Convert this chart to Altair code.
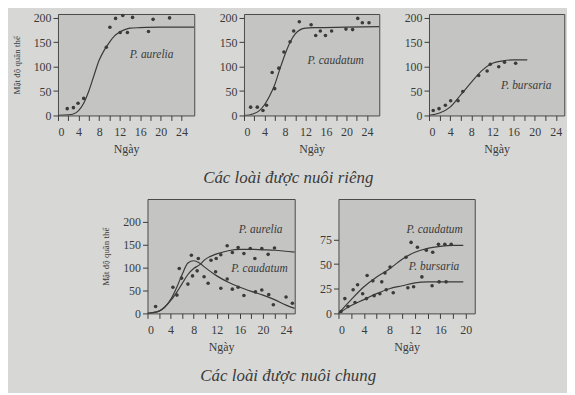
import altair as alt
import pandas as pd

FONT = "Liberation Serif, Times New Roman, serif"
INK = "#3a3a3a"
PLOT_BG = "#c4c4c2"
PAGE_BG = "#d7d8d6"

# ---------------- Panel A: P. aurelia (grown alone)
a_pt_x = [1.8, 3.0, 3.9, 5.0, 9.4, 10.1, 11.2, 12.1, 12.6, 13.5, 14.5, 17.6, 18.5, 21.7]
a_pt_y = [14, 16, 25, 35, 140, 181, 199, 170, 205, 170, 201, 172, 197, 200]
a_cv_x = [0, 2, 3, 4, 5, 6, 7, 8, 9, 10, 11, 12, 13, 14, 16, 20, 26.5]
a_cv_y = [0, 1, 3, 10, 25, 50, 82, 113, 134, 150, 163, 171, 176, 179, 180, 181, 181]

# ---------------- Panel B: P. caudatum (grown alone)
b_pt_x = [1.3, 2.6, 3.7, 4.4, 5.5, 6.0, 6.8, 7.8, 9.0, 9.7, 10.8, 13.1, 14.0, 14.9,
          15.9, 17.1, 19.9, 21.2, 22.2, 23.1, 24.4]
b_pt_y = [17, 17, 10, 21, 88, 55, 97, 130, 151, 173, 192, 186, 164, 173,
          164, 173, 177, 176, 199, 190, 190]
b_cv_x = [0, 1, 2, 3, 4, 5, 6, 7, 8, 9, 10, 11, 12, 14, 20, 26.4]
b_cv_y = [0, 1, 4, 10, 22, 40, 63, 95, 125, 150, 167, 176, 179, 180, 181, 182]

# ---------------- Panel C: P. bursaria (grown alone)
c_pt_x = [0.8, 1.9, 3.1, 4.1, 5.5, 6.4, 9.4, 11.0, 11.6, 13.2, 14.3, 16.4]
c_pt_y = [10, 14, 21, 30, 30, 49, 82, 91, 105, 100, 109, 107]
c_cv_x = [0, 2, 4, 6, 8, 10, 12, 14, 16, 18.6]
c_cv_y = [0, 5, 17, 42, 68, 92, 107, 112, 114, 114]

# ---------------- Panel D: P. aurelia + P. caudatum (grown together)
da_pt_x = [1.4, 5.1, 7.0, 7.8, 8.6, 11.0, 11.9, 12.7, 13.8, 14.7, 15.7, 16.7,
           17.8, 18.6, 19.8, 20.9, 22.0]
da_pt_y = [15, 40, 64, 82, 93, 116, 120, 128, 148, 133, 144, 131,
           142, 120, 142, 129, 143]
da_cv_x = [0, 2, 4, 5, 6, 7, 8, 9, 10, 12, 14, 16, 18, 20, 22, 25.5]
da_cv_y = [0, 5, 28, 45, 65, 85, 98, 106, 118, 130, 137, 140, 140, 139, 138, 134]

dc_pt_x = [4.4, 5.5, 5.9, 7.6, 8.8, 9.8, 10.5, 11.8, 12.7, 13.8, 14.7, 15.7,
           16.7, 18.7, 19.8, 21.0, 21.8, 24.0, 25.1]
dc_pt_y = [57, 98, 77, 127, 120, 80, 66, 91, 55, 75, 53, 57,
           39, 47, 51, 41, 19, 36, 22]
dc_cv_x = [0, 2, 4, 5, 6, 7, 8, 9, 10, 12, 14, 16, 18, 20, 22, 24, 25.5]
dc_cv_y = [0, 5, 30, 55, 85, 110, 115, 110, 100, 82, 68, 57, 48, 40, 30, 18, 11]

# ---------------- Panel E: P. caudatum + P. bursaria (grown together)
ec_pt_x = [1.0, 2.3, 3.0, 4.5, 5.4, 6.8, 7.3, 8.1, 10.6, 11.4, 12.4, 13.8,
           14.8, 15.7, 16.7, 17.7]
ec_pt_y = [15, 24, 29, 38.5, 33, 32, 41, 47, 57, 72, 67, 64,
           62, 70, 70, 70]
ec_cv_x = [0, 2, 4, 6, 8, 10, 12, 14, 16, 18, 19.6]
ec_cv_y = [0, 14, 27, 37, 45, 55, 62, 66, 68, 69, 69]

eb_pt_x = [0.4, 1.5, 2.6, 3.8, 4.4, 5.6, 6.5, 7.5, 8.6, 10.9, 11.8, 13.1,
           14.7, 15.8, 16.9]
eb_pt_y = [2, 7, 11, 20, 15, 18, 20, 24, 21, 26, 27, 37,
           28, 32, 32]
eb_cv_x = [0, 2, 4, 6, 8, 10, 12, 14, 16, 19.6]
eb_cv_y = [0, 8, 14, 20, 25, 28, 31, 32, 32, 32]

# ---------------- Labels and axes
Y_TITLE = "Mật độ quần thể"
X_TITLE = "Ngày"
CAPTION_TOP = "Các loài được nuôi riêng"
CAPTION_BOTTOM = "Các loài được nuôi chung"

x_ticks_24 = [0, 2, 4, 6, 8, 10, 12, 14, 16, 18, 20, 22, 24]
x_ticks_20 = [0, 2, 4, 6, 8, 10, 12, 14, 16, 18, 20]
y_ticks_200 = [0, 50, 100, 150, 200]
y_ticks_75 = [0, 25, 50, 75]


def panel(series, labels, xdom, ydom, xvals, yvals, w, h, ytitle=False):
    pts, cvs = [], []
    for name, (px, py, cx, cy) in series.items():
        pts += [{"s": name, "x": a, "y": b} for a, b in zip(px, py)]
        cvs += [{"s": name, "x": a, "y": b} for a, b in zip(cx, cy)]
    lab = pd.DataFrame(labels, columns=["t", "x", "y"])

    if ytitle:
        yaxis = alt.Axis(values=yvals, title=Y_TITLE)
    else:
        yaxis = alt.Axis(values=yvals, title=None)
    x = alt.X("x:Q", scale=alt.Scale(domain=xdom, nice=False, zero=False),
              axis=alt.Axis(values=xvals, title=X_TITLE,
                            labelExpr="datum.value % 4 == 0 ? datum.label : ''"))
    y = alt.Y("y:Q", scale=alt.Scale(domain=ydom, nice=False, zero=False), axis=yaxis)

    line = alt.Chart(pd.DataFrame(cvs)).mark_line(
        interpolate="monotone", color=INK, strokeWidth=1.2, clip=True
    ).encode(x=x, y=y, detail="s:N")
    dots = alt.Chart(pd.DataFrame(pts)).mark_circle(
        size=13, color=INK, opacity=1
    ).encode(x=x, y=y, detail="s:N")
    text = alt.Chart(lab).mark_text(
        font=FONT, fontStyle="italic", fontSize=11.5, color=INK
    ).encode(x=x, y=y, text="t:N")
    return alt.layer(line, dots, text).properties(width=w, height=h)


pA = panel({"a": (a_pt_x, a_pt_y, a_cv_x, a_cv_y)},
           [["P. aurelia", 18.2, 123]], [0, 26.5], [0, 208],
           x_ticks_24, y_ticks_200, 137, 102, ytitle=True)
pB = panel({"c": (b_pt_x, b_pt_y, b_cv_x, b_cv_y)},
           [["P. caudatum", 17.9, 112]], [0, 26.4], [0, 208],
           x_ticks_24, y_ticks_200, 136, 102)
pC = panel({"b": (c_pt_x, c_pt_y, c_cv_x, c_cv_y)},
           [["P. bursaria", 18.4, 60]], [0, 25.6], [0, 208],
           x_ticks_24, y_ticks_200, 136, 102)
pD = panel({"a": (da_pt_x, da_pt_y, da_cv_x, da_cv_y),
            "c": (dc_pt_x, dc_pt_y, dc_cv_x, dc_cv_y)},
           [["P. aurelia", 19.6, 182], ["P. caudatum", 19.4, 97]],
           [0, 25.5], [0, 250], x_ticks_24, y_ticks_200, 148, 115, ytitle=True)
pE = panel({"c": (ec_pt_x, ec_pt_y, ec_cv_x, ec_cv_y),
            "b": (eb_pt_x, eb_pt_y, eb_cv_x, eb_cv_y)},
           [["P. caudatum", 15.1, 85], ["P. bursaria", 15.0, 47]],
           [0, 21.4], [0, 116], x_ticks_20, y_ticks_75, 137, 115)


def caption(txt):
    return alt.TitleParams(txt, orient="bottom", anchor="middle", font=FONT,
                           fontStyle="italic", fontSize=17, fontWeight="normal",
                           color=INK, offset=15)


top = alt.hconcat(pA, pB, pC, spacing=23).properties(title=caption(CAPTION_TOP))
bottom = alt.hconcat(pD, pE, spacing=23).properties(title=caption(CAPTION_BOTTOM))

chart = alt.vconcat(top, bottom, spacing=12, center=True).properties(
    padding={"left": 3, "top": 2, "right": 2, "bottom": 8},
    background=PAGE_BG,
).configure_view(
    fill=PLOT_BG, stroke="#4a4a4a", strokeWidth=1
).configure_axis(
    labelFont=FONT, labelFontSize=12, labelColor=INK,
    titleFont=FONT, titleFontWeight="normal", titleColor=INK,
    tickColor=INK, tickSize=5, domain=False, grid=False, labelPadding=2,
).configure_axisX(
    titleFontSize=12, titlePadding=6, labelPadding=6,
).configure_axisY(
    titleFontSize=9, titlePadding=12,
)

chart.save("out.html", embed_options={"renderer": "svg", "actions": False})
